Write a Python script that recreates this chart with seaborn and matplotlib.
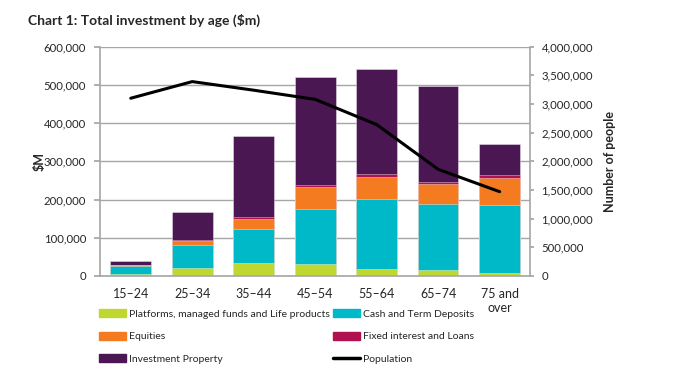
import numpy as np
import pandas as pd
import matplotlib
matplotlib.use("Agg")
import matplotlib.pyplot as plt
import matplotlib.ticker as mticker
from matplotlib.patches import Patch
from matplotlib.lines import Line2D
import seaborn as sns

sns.set_theme(style="white")
plt.rcParams["font.family"] = ["Lato", "DejaVu Sans"]

# data
ages = ["15–24", "25–34", "35–44", "45–54", "55–64", "65–74", "75 and\nover"]
platforms = [5000, 20000, 35000, 31000, 18000, 15000, 8000]
cash = [21000, 60000, 87000, 143000, 184000, 173000, 179000]
equities = [2500, 11000, 28000, 59000, 58000, 53000, 69000]
fixed = [1500, 2000, 3000, 6000, 6000, 6000, 7000]
property_ = [9000, 75000, 214000, 281000, 275000, 251000, 83000]
population = [3100000, 3390000, 3240000, 3080000, 2640000, 1860000, 1470000]

series = ["Platforms, managed funds and Life products", "Cash and Term Deposits",
          "Equities", "Fixed interest and Loans", "Investment Property"]
colors = ["#BFD730", "#00B9C8", "#F47B20", "#B0124F", "#4A1753"]

df = pd.DataFrame({"age": ages, series[0]: platforms, series[1]: cash,
                   series[2]: equities, series[3]: fixed, series[4]: property_})
cum = df[series].cumsum(axis=1)

fig = plt.figure(figsize=(6.97, 3.76), dpi=100)
ax = fig.add_axes([0.1435, 0.266, 0.6175, 0.61])

# stacked bars: draw cumulative totals from the top layer down
for name, col in zip(series[::-1], colors[::-1]):
    sns.barplot(x=df["age"], y=cum[name], color=col, width=0.66, ax=ax,
                edgecolor=(1, 1, 1, 0.45), linewidth=0.6, saturation=1, zorder=2)

ax.set_ylim(0, 600000)
ax.set_xlim(-0.5, 6.5)
ax.yaxis.set_major_locator(mticker.MultipleLocator(100000))
ax.yaxis.set_major_formatter(mticker.StrMethodFormatter("{x:,.0f}"))
ax.grid(axis="y", color="#a6a6a6", linewidth=1, zorder=0)
ax.set_axisbelow(True)
ax.set_xlabel("")
ax.set_ylabel("$M", fontsize=9, fontweight="bold", labelpad=-1)
ax.set_xticks(range(len(ages)))
ax.set_xticklabels(ages, fontsize=9)
ax.set_xticks(np.arange(-0.5, 7, 1), minor=True)
ax.tick_params(axis="x", which="major", length=0, pad=9)
ax.tick_params(axis="x", which="minor", length=4, color="#a6a6a6", direction="out")
ax.tick_params(axis="y", labelsize=8.2, length=4, color="#a6a6a6", direction="out",
               left=True, pad=6)
for s in ["left", "bottom", "right"]:
    ax.spines[s].set_color("#a6a6a6")
    ax.spines[s].set_linewidth(1.2)
ax.spines["top"].set_visible(False)

ax2 = ax.twinx()
sns.lineplot(x=np.arange(len(ages)), y=population, color="black", linewidth=2.2,
             ax=ax2, zorder=5)
ax2.set_ylim(0, 4000000)
ax2.yaxis.set_major_locator(mticker.MultipleLocator(500000))
ax2.yaxis.set_major_formatter(mticker.StrMethodFormatter("{x:,.0f}"))
ax2.tick_params(axis="y", labelsize=8.2, length=3, color="#a6a6a6", direction="out",
                right=True, pad=5)
ax2.set_ylabel("Number of people", fontsize=9, fontweight="bold", labelpad=8)
for s in ["left", "bottom", "right", "top"]:
    ax2.spines[s].set_visible(False)
ax2.grid(False)

fig.text(0.04, 0.945, "Chart 1: Total investment by age ($m)", fontsize=10,
         fontweight="bold", va="center")

handles = [Patch(color=colors[0]), Patch(color=colors[2]), Patch(color=colors[4]),
           Patch(color=colors[1]), Patch(color=colors[3]),
           Line2D([], [], color="black", linewidth=2.5)]
labels = [series[0], series[2], series[4], series[1], series[3], "Population"]
fig.legend(handles, labels, ncol=2, loc="upper left", bbox_to_anchor=(0.142, 0.178),
           frameon=False, fontsize=7.5, handlelength=2.6, handleheight=0.8,
           handletextpad=0.3, columnspacing=0.3, labelspacing=1.25,
           borderaxespad=0, borderpad=0)

fig.savefig("out.png", dpi=100)
